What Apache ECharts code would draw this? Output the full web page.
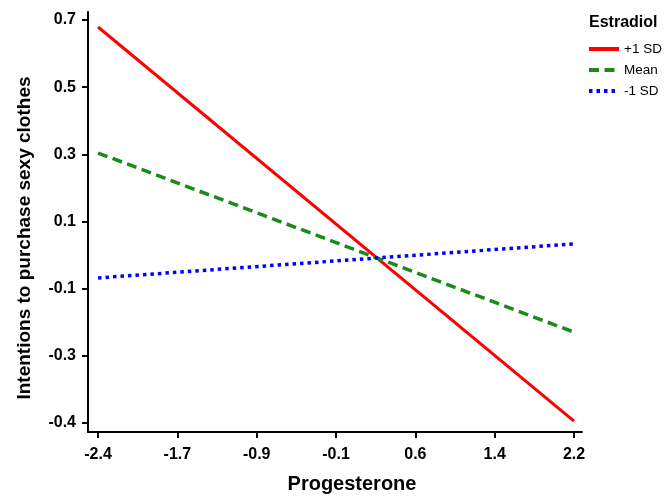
<!DOCTYPE html>
<html><head><meta charset="utf-8">
<script src="https://cdn.jsdelivr.net/npm/echarts@6/dist/echarts.min.js"></script>
<style>html,body{margin:0;padding:0;background:#fff}#c{width:670px;height:496px}</style>
</head><body><div id="c"></div>
<script>
const xEnds = [-2.4, 2.2];
const plusSD = [0.681, -0.395];
const meanSD = [0.337, -0.152];
const minusSD = [-0.004, 0.089];
const xTickValues = [-2.4, -1.6333, -0.8667, -0.1, 0.6667, 1.4333, 2.2];
const xTickLabels = ['-2.4', '-1.7', '-0.9', '-0.1', '0.6', '1.4', '2.2'];
const yTickValues = [-0.4, -0.2167, -0.0333, 0.15, 0.3333, 0.5167, 0.7];
const yTickLabels = ['-0.4', '-0.3', '-0.1', '0.1', '0.3', '0.5', '0.7'];
const seriesNames = ['+1 SD', 'Mean', '-1 SD'];
const legendTitle = 'Estradiol';
const xTitle = 'Progesterone';
const yTitle = 'Intentions to purchase sexy clothes';

const font = 'Liberation Sans, Arial, sans-serif';
const narrow = '"Liberation Sans Narrow", "Arial Narrow", "Liberation Sans", sans-serif';
function pair(vals){ return xEnds.map((x,i)=>[x, vals[i]]); }
function lab(ticks, labels){ return function(v){ const i = ticks.findIndex(t=>Math.abs(t-v)<1e-3); return i>=0?labels[i]:''; }; }
const chart = echarts.init(document.getElementById('c'), null, {renderer:'canvas'});
chart.setOption({
  animation:false,
  grid:{left:88, right:88, top:12, bottom:64, containLabel:false},
  title:{text:legendTitle, left:584, top:10, textStyle:{fontFamily:font, fontWeight:'bold', fontSize:16, color:'#000'}},
  legend:{
    orient:'vertical', left:582, top:37, itemGap:7, itemWidth:30, itemHeight:14,
    textStyle:{fontFamily:font, fontSize:13.5, color:'#000', lineHeight:14},
    itemStyle:{opacity:0},
    lineStyle:{width:4},
    data: seriesNames
  },
  graphic:[
    {type:'text', x:352, y:484, style:{text:xTitle, fontFamily:font, fontWeight:'bold', fontSize:20, fill:'#000', align:'center', verticalAlign:'middle'}},
    {type:'text', x:25, y:238, rotation:Math.PI/2, style:{text:yTitle, fontFamily:font, fontWeight:'bold', fontSize:19, fill:'#000', align:'center', verticalAlign:'middle'}}
  ],
  xAxis:{
    type:'value', min:-2.497, max:2.277,
    axisLine:{show:true, onZero:false, lineStyle:{color:'#000', width:2}},
    axisTick:{show:true, length:6, lineStyle:{color:'#000', width:2}, customValues:xTickValues},
    axisLabel:{fontFamily:narrow, fontWeight:'bold', fontSize:16, color:'#000', margin:15,
      customValues:xTickValues, formatter:lab(xTickValues, xTickLabels)},
    splitLine:{show:false}
  },
  yAxis:{
    type:'value', min:-0.4246, max:0.722,
    axisLine:{show:true, onZero:false, lineStyle:{color:'#000', width:2}},
    axisTick:{show:true, length:6, lineStyle:{color:'#000', width:2}, customValues:yTickValues},
    axisLabel:{fontFamily:narrow, fontWeight:'bold', fontSize:16, color:'#000', margin:12,
      customValues:yTickValues, formatter:lab(yTickValues, yTickLabels)},
    splitLine:{show:false}
  },
  series:[
    {name:seriesNames[0], type:'line', data:pair(plusSD), symbol:'none', lineStyle:{color:'#ff0000', width:3, type:'solid'}, itemStyle:{color:'#ff0000'}},
    {name:seriesNames[1], type:'line', data:pair(meanSD), symbol:'none', lineStyle:{color:'#1a8a1a', width:3.5, type:[10,5.5]}, itemStyle:{color:'#1a8a1a'}},
    {name:seriesNames[2], type:'line', data:pair(minusSD), symbol:'none', lineStyle:{color:'#0000ff', width:3.5, type:[3.5,4]}, itemStyle:{color:'#0000ff'}}
  ]
});
</script></body></html>
